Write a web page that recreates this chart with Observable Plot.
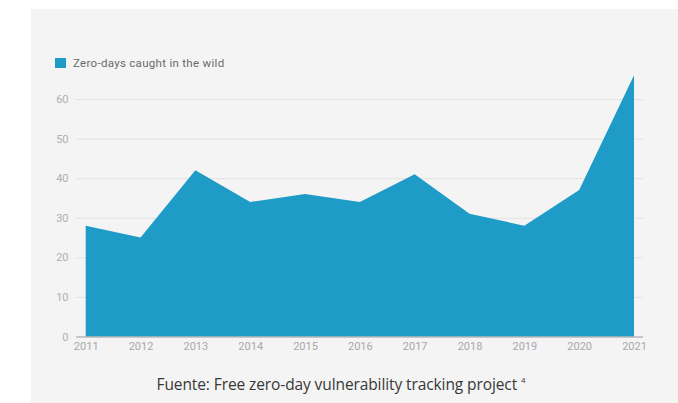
<!DOCTYPE html>
<html>
<head>
<meta charset="utf-8">
<script src="https://cdn.jsdelivr.net/npm/d3@7"></script>
<script src="https://cdn.jsdelivr.net/npm/@observablehq/plot@0.6"></script>
<style>
  html, body { margin: 0; padding: 0; background: #ffffff; width: 678px; height: 403px; overflow: hidden; }
  #panel { position: absolute; left: 31px; top: 9px; width: 647px; height: 394px; background: #f4f4f4; }
  #legend { position: absolute; left: 55px; top: 56px; font-family: Roboto, sans-serif; font-size: 11.5px; letter-spacing: 0.3px; color: #6a6a6a; display: flex; align-items: center; }
  #legend .sw { width: 11px; height: 10px; background: #1e9bc7; margin-right: 7px; }
  #chart { position: absolute; left: 0; top: 0; }
  #caption { position: absolute; left: 0; width: 682px; top: 373px; text-align: center; font-family: "Open Sans", sans-serif; font-size: 15.5px; letter-spacing: -0.1px; color: #383838; }
  #caption sup { font-size: 8px; vertical-align: 7px; }
</style>
</head>
<body>
<div id="panel"></div>
<div id="chart"></div>
<div id="legend"><div class="sw"></div><span>Zero-days caught in the wild</span></div>
<div id="caption">Fuente: Free zero-day vulnerability tracking project <sup>4</sup></div>
<script>
const years = [2011, 2012, 2013, 2014, 2015, 2016, 2017, 2018, 2019, 2020, 2021];
const zeroDays = [28, 25, 42, 34, 36, 34, 41, 31, 28, 37, 66];
const yTicks = [0, 10, 20, 30, 40, 50, 60];
const seriesName = "Zero-days caught in the wild";

const data = years.map((y, i) => ({year: y, value: zeroDays[i], series: seriesName}));

const chart = Plot.plot({
  width: 678,
  height: 360,
  marginLeft: 76,
  marginRight: 35,
  marginTop: 75.3,
  marginBottom: 23.5,
  style: {background: "transparent", fontFamily: "Roboto, sans-serif", fontSize: "11px", color: "#aaaaaa"},
  x: {domain: [2010.823, 2021.164], ticks: years, tickFormat: d => String(d), tickSize: 0, tickPadding: 5, label: null},
  y: {domain: [0, 66], ticks: yTicks, tickSize: 0, tickPadding: 8, label: null},
  marks: [
    Plot.gridY(yTicks.filter(d => d > 0), {stroke: "#e2e2e2", strokeOpacity: 1, strokeWidth: 1}),
    Plot.areaY(data, {x: "year", y: "value", fill: "#1e9bc7", curve: "linear"}),
    Plot.ruleY([0], {stroke: "#9a9a9a", strokeWidth: 1.2}),
    Plot.axisX({ticks: years, tickFormat: d => String(d), tickSize: 0, tickPadding: 5, fill: "#a8a8a8", label: null}),
    Plot.axisY({ticks: yTicks, tickSize: 0, tickPadding: 8, fill: "#b0b0b0", label: null})
  ]
});
document.getElementById("chart").appendChild(chart);
</script>
</body>
</html>
